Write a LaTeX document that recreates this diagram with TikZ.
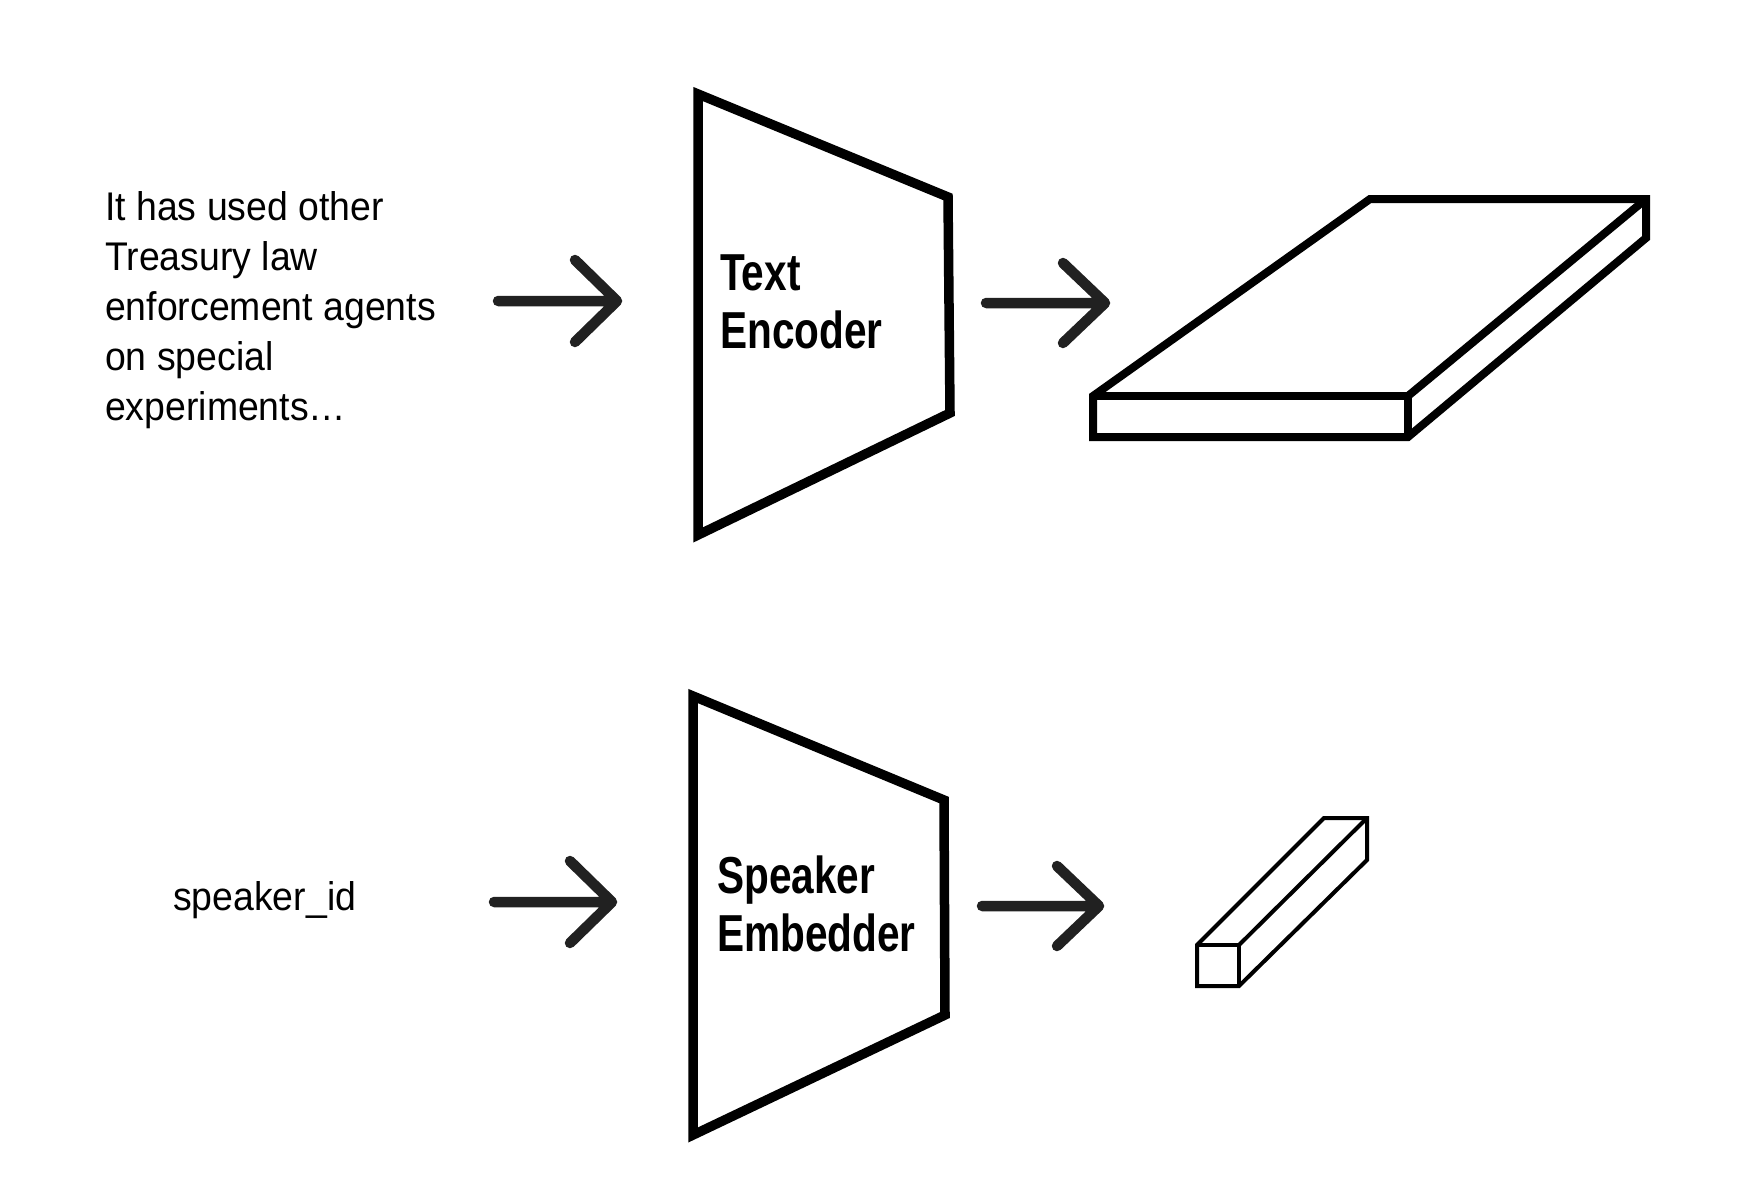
\documentclass[tikz,border=0pt]{standalone}
\usepackage{fontspec}
\setmainfont{Liberation Sans}
\newfontfamily\regcond[FakeStretch=0.935]{Liberation Sans}
\newfontfamily\boldcond[FakeStretch=0.78]{Liberation Sans}
\begin{document}
\begin{tikzpicture}[x=1pt,y=-1pt,
  block/.style={draw=black,line width=9.5pt,line join=miter,fill=white},
  slab/.style={draw=black,line width=8pt,line join=miter},
  bar/.style={draw=black,line width=4pt,line join=miter},
  arr/.style={draw=black!87,line width=10.5pt,line cap=round,line join=round},
  intext/.style={inner sep=0pt,anchor=base west,align=left,font=\regcond\fontsize{40}{50}\selectfont},
  blabel/.style={inner sep=0pt,anchor=base west,align=left,font=\boldcond\bfseries\fontsize{52}{58}\selectfont}]
\useasboundingbox (0,0) rectangle (1747,1196);

% input texts (anchor = baseline of last line)
\node[intext] (txt) at (105,420) {It has used other\\Treasury law\\enforcement agents\\on special\\experiments\ldots};
\node[intext] (spk) at (173,910) {speaker\_id};

% Text encoder trapezoid
\coordinate (te1) at (698,94);
\coordinate (te2) at (948,197);
\coordinate (te3) at (950,413);
\coordinate (te4) at (698,535);
\draw[block] (te1) -- (te2) -- (te3) -- (te4) -- cycle;
\node[blabel] (tel) at (720,348) {Text\\Encoder};

% Speaker embedder trapezoid
\coordinate (se1) at (693,696);
\coordinate (se2) at (944,800);
\coordinate (se3) at (945,1015);
\coordinate (se4) at (693,1135);
\draw[block] (se1) -- (se2) -- (se3) -- (se4) -- cycle;
\node[blabel] (sel) at (717,951) {Speaker\\Embedder};

% arrows
\coordinate (a1s) at (498,301); \coordinate (a1e) at (617,301);
\draw[arr] (a1s) -- (a1e) ++(-42,-41) -- (a1e) -- ++(-42,41);
\coordinate (a2s) at (986,303); \coordinate (a2e) at (1105,303);
\draw[arr] (a2s) -- (a2e) ++(-42,-40) -- (a2e) -- ++(-42,40);
\coordinate (a3s) at (494,902); \coordinate (a3e) at (612,902);
\draw[arr] (a3s) -- (a3e) ++(-42,-41) -- (a3e) -- ++(-42,41);
\coordinate (a4s) at (982,906); \coordinate (a4e) at (1099,906);
\draw[arr] (a4s) -- (a4e) ++(-42,-40) -- (a4e) -- ++(-42,40);

% slab (text embeddings)
\coordinate (sf1) at (1093,396);
\coordinate (sf2) at (1408,396);
\coordinate (sf3) at (1408,437);
\coordinate (sf4) at (1093,437);
\coordinate (sb1) at (1370,199);
\coordinate (sb2) at (1646,199);
\coordinate (sb3) at (1646,238);
\draw[slab] (sf1) -- (sb1) -- (sb2) -- (sb3) -- (sf3) -- (sf4) -- cycle;
\draw[slab] (sf1) -- (sf2) -- (sf3);
\draw[slab] (sf2) -- (sb2);

% bar (speaker embedding)
\coordinate (bf1) at (1197,945);
\coordinate (bf2) at (1239,945);
\coordinate (bf3) at (1239,986);
\coordinate (bf4) at (1197,986);
\coordinate (bb1) at (1324,818);
\coordinate (bb2) at (1367,818);
\coordinate (bb3) at (1367,860);
\draw[bar] (bf1) -- (bb1) -- (bb2) -- (bb3) -- (bf3) -- (bf4) -- cycle;
\draw[bar] (bf1) -- (bf2) -- (bf3);
\draw[bar] (bf2) -- (bb2);
\end{tikzpicture}
\end{document}
